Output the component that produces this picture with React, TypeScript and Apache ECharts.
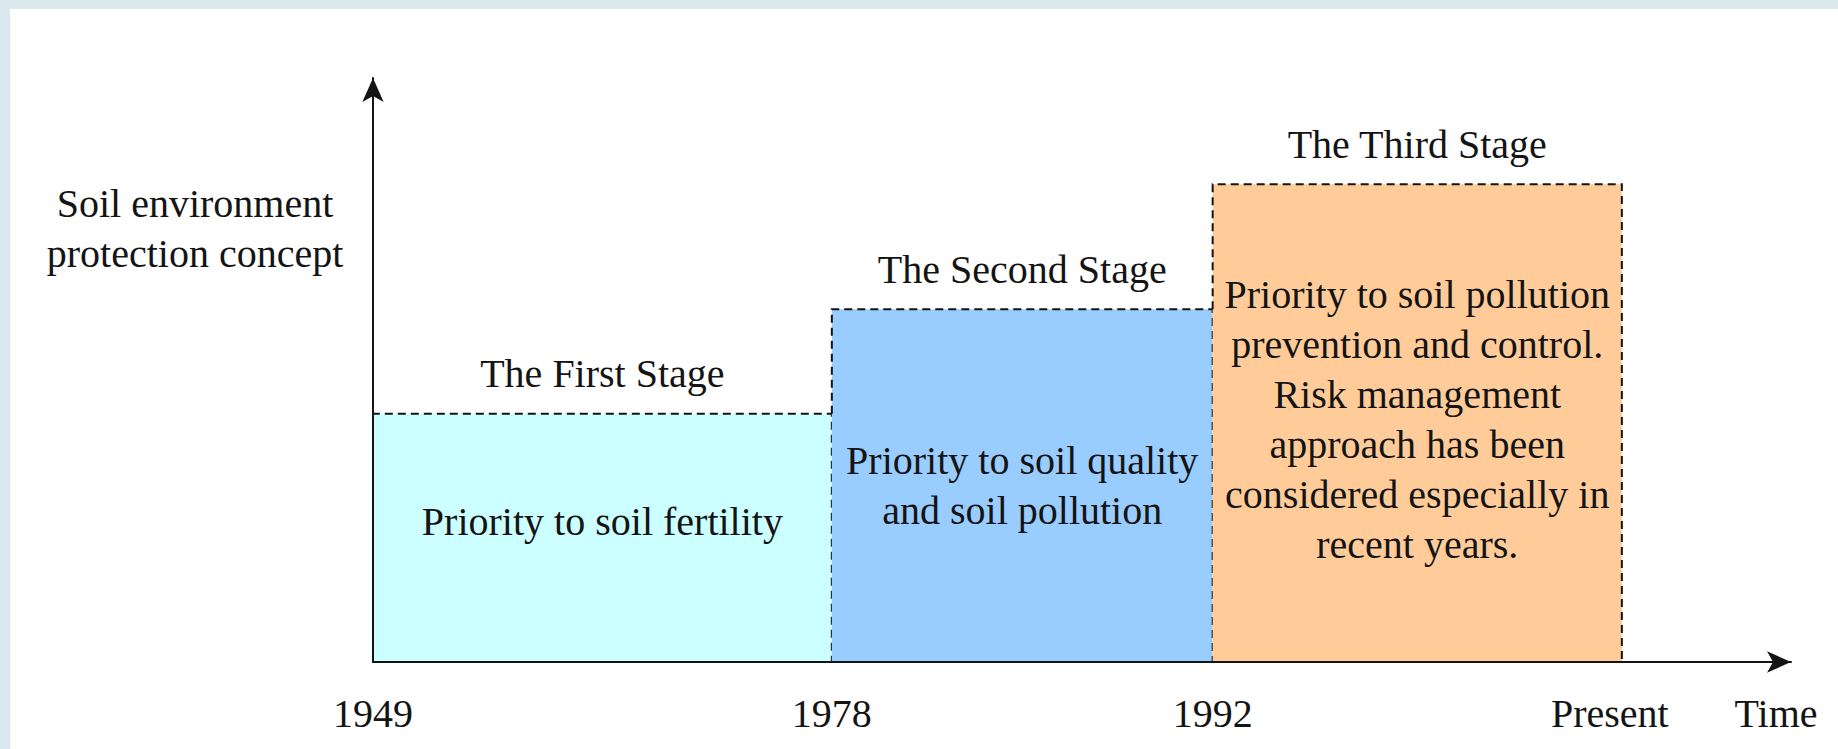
import React, { useEffect, useRef } from "react";
import * as echarts from "echarts";

// Stage data (x in arbitrary time units along the axis, y in arbitrary "concept level" units)
const stageNames = ["The First Stage", "The Second Stage", "The Third Stage"];
const stageStart = [0, 4.53, 8.29];
const stageEnd = [4.53, 8.29, 12.33];
const stageLevel = [4.25, 6.04, 8.18];
const stageText = [
  "Priority to soil fertility",
  "Priority to soil quality\nand soil pollution",
  "Priority to soil pollution\nprevention and control.\nRisk management\napproach has been\nconsidered especially in\nrecent years.",
];
const stageColors = ["#CCFFFF", "#99CCFF", "#FFCC99"];

const tickValues = [0, 4.53, 8.29, 12.33];
const tickLabels = ["1949", "1978", "1992", "Present"];

const yAxisTitle = "Soil environment\nprotection concept";
const xAxisTitle = "Time";

const FONT_FAMILY = '"Liberation Serif", "Times New Roman", serif';
const INK = "#141414";
const BODY_DY = [-16, 0, -4];

export default function App() {
  const ref = useRef<HTMLDivElement>(null);

  useEffect(() => {
    if (!ref.current) return;
    const chart = echarts.init(ref.current, null, { renderer: "svg" });

    const data = stageStart.map((s, i) => [
      s,
      stageEnd[i],
      stageLevel[i],
      i > 0 ? stageLevel[i - 1] : 0,
      i,
    ]);

    const option: any = {
      animation: false,
      backgroundColor: "#ffffff",
      grid: {
        left: 373,
        right: 47,
        top: 78,
        bottom: 87,
        containLabel: false,
        outerBoundsMode: "none",
      },
      xAxis: {
        type: "value",
        min: 0,
        max: 14,
        z: 5,
        name: xAxisTitle,
        nameLocation: "end",
        nameGap: -15,
        nameTextStyle: {
          fontFamily: FONT_FAMILY,
          fontSize: 40,
          color: INK,
          align: "center",
          verticalAlign: "top",
          lineHeight: 40,
          padding: [31, 0, 0, 0],
        },
        axisLine: {
          show: true,
          symbol: ["none", "arrow"],
          symbolSize: [16, 24],
          lineStyle: { color: INK, width: 2 },
        },
        axisTick: { show: false },
        splitLine: { show: false },
        axisLabel: {
          show: true,
          customValues: tickValues,
          margin: 31,
          fontFamily: FONT_FAMILY,
          fontSize: 40,
          lineHeight: 40,
          color: INK,
          hideOverlap: false,
          formatter: (v: number) => {
            const k = tickValues.findIndex((t) => Math.abs(t - v) < 1e-6);
            if (k < 0) return "";
            if (tickLabels[k] === "Present") return "{p|Present}";
            return tickLabels[k];
          },
          rich: {
            p: {
              fontFamily: FONT_FAMILY,
              fontSize: 40,
              lineHeight: 40,
              color: INK,
              padding: [0, 24, 0, 0],
            },
          },
        },
      },
      yAxis: {
        type: "value",
        min: 0,
        max: 10,
        z: 5,
        axisLine: {
          show: true,
          onZero: false,
          symbol: ["none", "arrow"],
          symbolSize: [16, 24],
          lineStyle: { color: INK, width: 2 },
        },
        axisTick: { show: false },
        axisLabel: { show: false },
        splitLine: { show: false },
      },
      graphic: [
        { type: "rect", left: 0, top: 0, shape: { x: 0, y: 0, width: 10, height: 749 }, style: { fill: "#d8e8ee" }, silent: true },
        { type: "rect", left: 0, top: 0, shape: { x: 0, y: 0, width: 1838, height: 9 }, style: { fill: "#dbe9ef" }, silent: true },
        {
          type: "text",
          x: 195,
          y: 228,
          style: {
            text: yAxisTitle,
            align: "center",
            verticalAlign: "middle",
            fontFamily: FONT_FAMILY,
            fontSize: 40,
            lineHeight: 50,
            fill: INK,
          },
        },
      ],
      series: [
        {
          type: "custom",
          z: 2,
          encode: { x: [0, 1], y: [2, 3] },
          data,
          renderItem: (params: any, api: any) => {
            const i = api.value(4);
            const p0 = api.coord([api.value(0), 0]);
            const p1 = api.coord([api.value(1), api.value(2)]);
            const pPrev = api.coord([api.value(0), api.value(3)]);
            const x = p0[0];
            const y = p1[1];
            const w = p1[0] - p0[0];
            const h = p0[1] - p1[1];
            return {
              type: "group",
              children: [
                {
                  type: "rect",
                  shape: { x, y, width: w, height: h },
                  style: { fill: stageColors[i], stroke: "none" },
                },
                {
                  type: "polyline",
                  shape: {
                    points: [
                      [x, pPrev[1]],
                      [x, y],
                      [x + w, y],
                      [x + w, p0[1]],
                    ],
                  },
                  style: {
                    fill: "none",
                    stroke: INK,
                    lineWidth: 2,
                    lineDash: [8, 5],
                  },
                },
                {
                  type: "text",
                  style: {
                    text: stageNames[i],
                    x: x + w / 2,
                    y: y - 40,
                    align: "center",
                    verticalAlign: "middle",
                    fontFamily: FONT_FAMILY,
                    fontSize: 40,
                    fill: INK,
                  },
                },
                {
                  type: "text",
                  style: {
                    text: stageText[i],
                    x: x + w / 2,
                    y: y + h / 2 + BODY_DY[i],
                    align: "center",
                    verticalAlign: "middle",
                    fontFamily: FONT_FAMILY,
                    fontSize: 40,
                    lineHeight: 50,
                    fill: INK,
                  },
                },
              ],
            };
          },
        },
      ],
    };

    chart.setOption(option);
    return () => {
      chart.dispose();
    };
  }, []);

  return (
    <div
      ref={ref}
      style={{ position: "fixed", left: 0, top: 0, width: 1838, height: 749 }}
    />
  );
}
